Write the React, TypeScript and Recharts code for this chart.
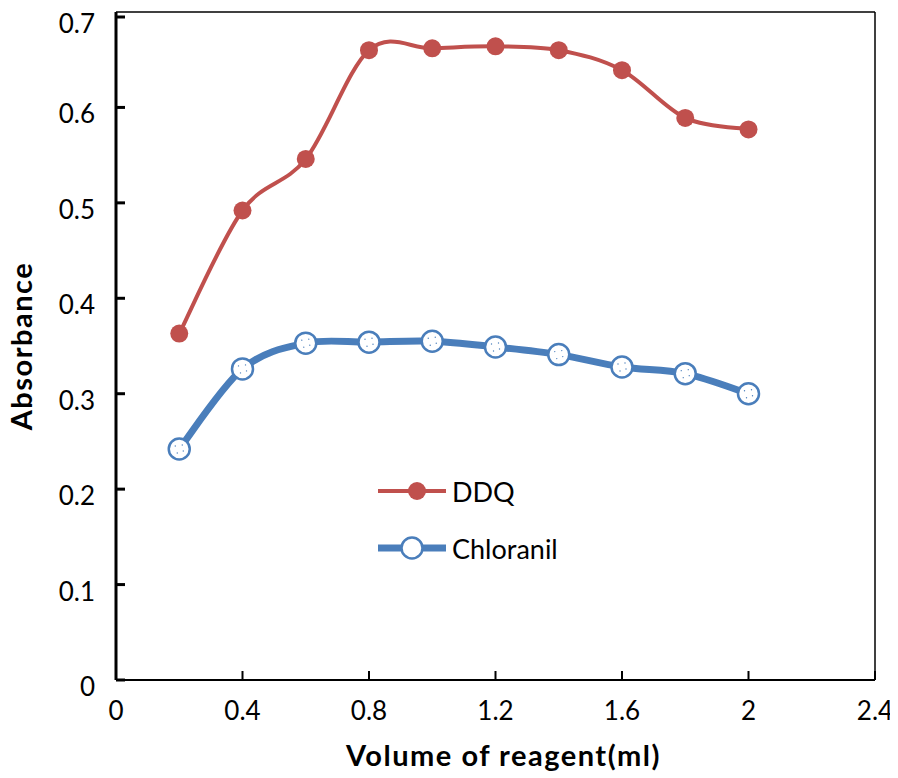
import React from 'react'
import { LineChart, Line, XAxis, YAxis, ReferenceLine, Legend } from 'recharts'

const volumes = [0.2, 0.4, 0.6, 0.8, 1.0, 1.2, 1.4, 1.6, 1.8, 2.0]
const ddq = [0.363, 0.492, 0.546, 0.66, 0.662, 0.664, 0.66, 0.639, 0.589, 0.577]
const chloranil = [0.242, 0.326, 0.353, 0.354, 0.355, 0.349, 0.341, 0.328, 0.321, 0.3]
const xTicks = [0, 0.4, 0.8, 1.2, 1.6, 2.0, 2.4]
const yTicks = [0, 0.1, 0.2, 0.3, 0.4, 0.5, 0.6, 0.7]

const data = volumes.map((v, i) => ({ v, ddq: ddq[i], chloranil: chloranil[i] }))

const RED = '#C0504D'
const BLUE = '#4A7EBB'
const FONT = 'Lato, "Open Sans", sans-serif'

// Excel-like smoothing (Catmull-Rom style bezier)
const smooth = (context: any) => {
  let pts: number[][] = []
  return {
    areaStart() {},
    areaEnd() {},
    lineStart() {
      pts = []
    },
    point(x: number, y: number) {
      pts.push([+x, +y])
    },
    lineEnd() {
      if (!pts.length) return
      context.moveTo(pts[0][0], pts[0][1])
      for (let i = 0; i < pts.length - 1; i++) {
        const p0 = pts[i - 1] || pts[i]
        const p1 = pts[i]
        const p2 = pts[i + 1]
        const p3 = pts[i + 2] || p2
        context.bezierCurveTo(
          p1[0] + (p2[0] - p0[0]) / 6,
          p1[1] + (p2[1] - p0[1]) / 6,
          p2[0] - (p3[0] - p1[0]) / 6,
          p2[1] - (p3[1] - p1[1]) / 6,
          p2[0],
          p2[1]
        )
      }
    },
  }
}

const fmt = (n: number) => String(Math.round(n * 10) / 10)

function YTick({ x, y, payload }: any) {
  return (
    <g>
      <line x1={x} x2={x + 9} y1={y} y2={y} stroke="#000" strokeWidth={3} />
      <text x={x - 21} y={y} dy={16} textAnchor="end" fontFamily={FONT} fontSize={26} fill="#000">
        {fmt(payload.value)}
      </text>
    </g>
  )
}

function XTick({ x, y, payload }: any) {
  return (
    <g>
      {payload.value > 0 && <line x1={x} x2={x} y1={y} y2={y - 9} stroke="#000" strokeWidth={2} />}
      <text x={x} y={y} dy={40} textAnchor="middle" fontFamily={FONT} fontSize={26} fill="#000">
        {fmt(payload.value)}
      </text>
    </g>
  )
}

function HollowDot({ cx, cy }: any) {
  if (cx == null || cy == null) return null
  return (
    <g>
      <circle cx={cx} cy={cy} r={10.5} fill="#fff" stroke={BLUE} strokeWidth={2.5} />
      <circle cx={cx - 4} cy={cy - 3} r={0.7} fill={BLUE} />
      <circle cx={cx + 3} cy={cy - 4} r={0.7} fill={BLUE} />
      <circle cx={cx + 4} cy={cy + 2} r={0.7} fill={BLUE} />
      <circle cx={cx - 2} cy={cy + 4} r={0.7} fill={BLUE} />
    </g>
  )
}

function LegendBox() {
  const row = (label: string, color: string, width: number, hollow: boolean, mx: number) => (
    <div style={{ display: 'flex', alignItems: 'center', height: 36 }}>
      <svg width={74} height={30}>
        <line x1={0} x2={68} y1={15} y2={15} stroke={color} strokeWidth={width} />
        {hollow ? (
          <circle cx={mx} cy={15} r={10.5} fill="#fff" stroke={color} strokeWidth={2.5} />
        ) : (
          <circle cx={mx} cy={15} r={9} fill={color} />
        )}
      </svg>
      <span style={{ fontFamily: FONT, fontSize: 27, color: '#000' }}>{label}</span>
    </div>
  )
  return (
    <div style={{ display: 'flex', flexDirection: 'column', gap: 21 }}>
      {row('DDQ', RED, 4, false, 39)}
      {row('Chloranil', BLUE, 7, true, 34)}
    </div>
  )
}

const titleStyle = {
  fontFamily: FONT,
  fontSize: 29,
  fontWeight: 700,
  fill: '#000',
  letterSpacing: 1.5,
}

export default function App() {
  return (
    <div style={{ width: 890, height: 770 }}>
      <LineChart width={890} height={770} data={data} margin={{ top: 4, right: 23, left: 0, bottom: 0 }}>
        <XAxis
          dataKey="v"
          type="number"
          domain={[0, 2.4]}
          ticks={xTicks}
          height={98}
          axisLine={{ stroke: '#000', strokeWidth: 2 }}
          tickLine={false}
          tickSize={0}
          tickMargin={0}
          tick={<XTick />}
          label={{
            value: 'Volume of reagent(ml)',
            position: 'insideBottom',
            offset: 12,
            dx: 8,
            style: titleStyle,
          }}
        />
        <YAxis
          type="number"
          domain={[0, 0.7]}
          ticks={yTicks}
          width={108}
          axisLine={{ stroke: '#000', strokeWidth: 3 }}
          tickLine={false}
          tickSize={0}
          tickMargin={0}
          tick={<YTick />}
          label={{
            value: 'Absorbance',
            angle: -90,
            position: 'insideLeft',
            offset: 14,
            dy: 0,
            style: { ...titleStyle, textAnchor: 'middle' },
          }}
        />
        <ReferenceLine y={0.7} stroke="#000" strokeWidth={1.5} />
        <ReferenceLine x={2.4} stroke="#000" strokeWidth={1.5} />
        <Legend
          layout="vertical"
          verticalAlign="middle"
          align="center"
          content={<LegendBox />}
          wrapperStyle={{ position: 'absolute', left: 370, top: 465, width: 240 }}
        />
        <Line
          dataKey="ddq"
          type={smooth as any}
          stroke={RED}
          strokeWidth={4}
          dot={{ r: 9, fill: RED, stroke: RED, strokeWidth: 0 }}
          activeDot={false}
          isAnimationActive={false}
        />
        <Line
          dataKey="chloranil"
          type={smooth as any}
          stroke={BLUE}
          strokeWidth={7}
          dot={<HollowDot />}
          activeDot={false}
          isAnimationActive={false}
        />
      </LineChart>
    </div>
  )
}
